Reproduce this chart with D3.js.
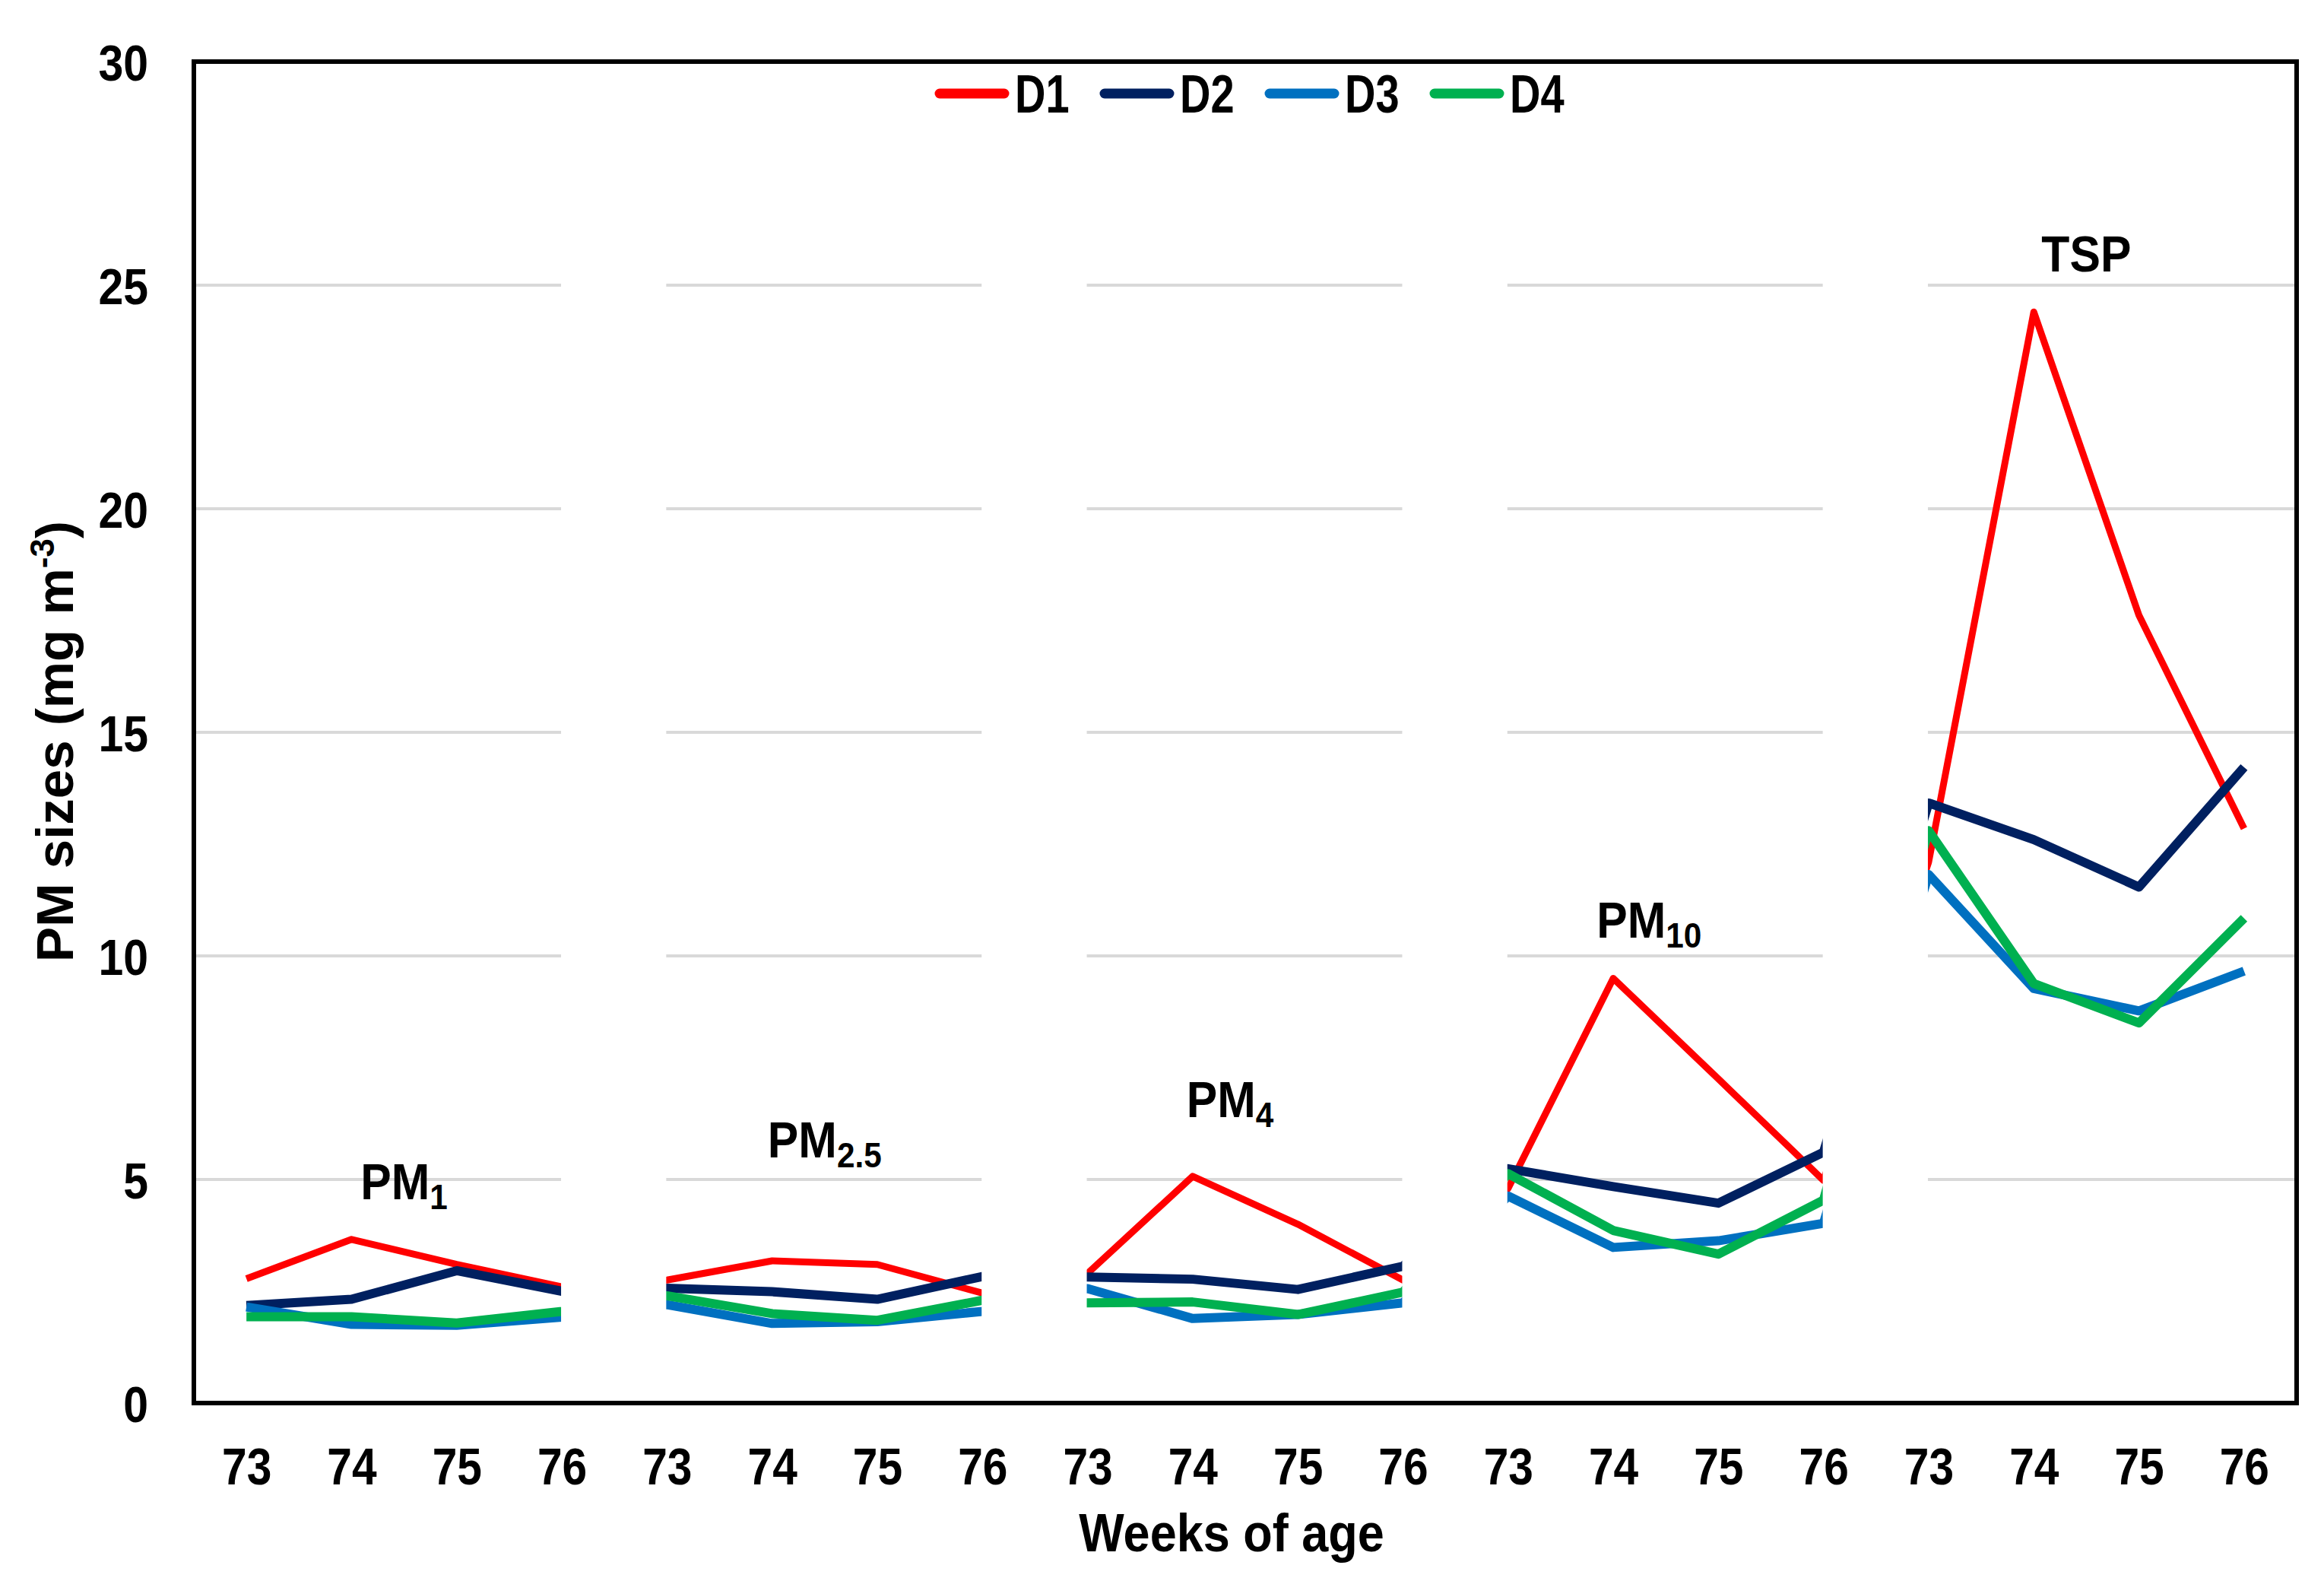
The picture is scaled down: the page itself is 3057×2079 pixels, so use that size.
<!DOCTYPE html>
<html>
<head>
<meta charset="utf-8">
<script src="https://cdn.jsdelivr.net/npm/d3@7/dist/d3.min.js"></script>
<style>
  html, body { margin: 0; padding: 0; background: #ffffff; }
  svg { display: block; }
  text { font-family: "Liberation Sans", Arial, sans-serif; font-weight: bold; fill: #000; }
</style>
</head>
<body>
<svg id="chart" width="3057" height="2079"></svg>
<script>
// ---------------- data ----------------
const groups = ["PM1", "PM2.5", "PM4", "PM10", "TSP"];
const groupMain = ["PM", "PM", "PM", "PM", "TSP"];
const groupSub = ["1", "2.5", "4", "10", ""];
const weeks = ["73", "74", "75", "76"];
const seriesNames = ["D1", "D2", "D3", "D4"];
const seriesColors = ["#FF0000", "#002060", "#0070C0", "#00B050"];

const D1 = [2.78, 3.66, 3.10, 2.60,  2.75, 3.18, 3.10, 2.46,  2.90, 5.07, 4.00, 2.75,  4.80, 9.50, 7.25, 4.98,  12.10, 24.40, 17.62, 12.85];
const D2 = [2.18, 2.32, 2.96, 2.50,  2.57, 2.49, 2.32, 2.83,  2.82, 2.77, 2.54, 3.06,  5.24, 4.84, 4.47, 5.61,  13.42, 12.60, 11.54, 14.22];
const D3 = [2.15, 1.76, 1.74, 1.92,  2.20, 1.78, 1.82, 2.05,  2.56, 1.89, 1.98, 2.24,  4.63, 3.48, 3.63, 4.02,  11.82, 9.27, 8.77, 9.66];
const D4 = [1.93, 1.93, 1.79, 2.05,  2.40, 2.00, 1.85, 2.30,  2.24, 2.26, 1.98, 2.48,  5.13, 3.86, 3.33, 4.54,  12.80, 9.38, 8.50, 10.84];
const seriesValues = [D1, D2, D3, D4];

const yTicks = [0, 5, 10, 15, 20, 25, 30];
const groupLabelY = [4.55, 5.5, 6.4, 10.4, 25.3]; // label baselines, in data units

// ---------------- layout ----------------
const W = 3057, H = 2079;
const plot = { left: 255, right: 3021, top: 81, bottom: 1845 };
const labelDx = [0, 0, -20, -22, 0];
const SQ_TICK_X = 0.85, SQ_TICK_Y = 0.88, SQ_LEG = 0.8, SQ_LAB = 0.92, SQ_TITLE = 0.9;

const svg = d3.select("#chart");
svg.append("rect").attr("width", W).attr("height", H).attr("fill", "#fff");

// categories: one per (group, week)
const categories = [];
groups.forEach((g, gi) => weeks.forEach((w, wi) => categories.push({ key: gi * weeks.length + wi, group: g, week: w })));

const x = d3.scalePoint()
  .domain(categories.map(d => d.key))
  .range([plot.left, plot.right])
  .padding(0.5);

const y = d3.scaleLinear().domain([0, 30]).range([plot.bottom, plot.top]);

// gridlines
svg.append("g")
  .selectAll("line")
  .data(yTicks.filter(v => v > 0 && v < 30))
  .join("line")
  .attr("x1", plot.left).attr("x2", plot.right)
  .attr("y1", d => y(d)).attr("y2", d => y(d))
  .attr("stroke", "#D9D9D9").attr("stroke-width", 4);

// series lines (continuous, then gaps masked as in original)
const line = d3.line()
  .x((d, i) => x(i))
  .y(d => y(d));

svg.append("g")
  .selectAll("path")
  .data(seriesValues)
  .join("path")
  .attr("d", d => line(d))
  .attr("fill", "none")
  .attr("stroke", (d, i) => seriesColors[i])
  .attr("stroke-width", (d, i) => i === 0 ? 9 : 12)
  .attr("stroke-linejoin", "round")
  .attr("stroke-linecap", "butt");

// white masks between groups
const gaps = d3.range(groups.length - 1);
svg.append("g")
  .selectAll("rect")
  .data(gaps)
  .join("rect")
  .attr("x", g => x(g * 4 + 3) - 1)
  .attr("width", g => (x(g * 4 + 4) - 1) - (x(g * 4 + 3) - 1))
  .attr("y", plot.top + 4)
  .attr("height", plot.bottom - plot.top - 8)
  .attr("fill", "#fff");

// frame
svg.append("rect")
  .attr("x", plot.left).attr("y", plot.top)
  .attr("width", plot.right - plot.left).attr("height", plot.bottom - plot.top)
  .attr("fill", "none").attr("stroke", "#000").attr("stroke-width", 6);

// y axis
const yAxis = d3.axisLeft(y).tickValues(yTicks).tickSize(0).tickFormat(d3.format("d"));
const gy = svg.append("g").attr("transform", `translate(${plot.left},0)`).call(yAxis);
gy.select(".domain").remove();
gy.selectAll("text")
  .attr("font-size", 67)
  .attr("font-family", '"Liberation Sans", Arial, sans-serif')
  .attr("font-weight", "bold")
  .attr("fill", "#000")
  .attr("x", -60 / SQ_TICK_Y)
  .attr("dy", "0.36em")
  .attr("transform", `scale(${SQ_TICK_Y},1)`);

// x axis
const xAxis = d3.axisBottom(x).tickSize(0).tickFormat(k => categories[k].week);
const gx = svg.append("g").attr("transform", `translate(0,${plot.bottom})`).call(xAxis);
gx.select(".domain").remove();
gx.selectAll("text")
  .attr("font-size", 69)
  .attr("font-family", '"Liberation Sans", Arial, sans-serif')
  .attr("font-weight", "bold")
  .attr("fill", "#000")
  .attr("x", 0)
  .attr("y", 107)
  .attr("dy", 0)
  .attr("transform", `scale(${SQ_TICK_X},1)`);

// group labels
groups.forEach((g, gi) => {
  const cx = (x(gi * 4 + 1) + x(gi * 4 + 2)) / 2 + labelDx[gi];
  const t = svg.append("g")
    .attr("transform", `translate(${cx},${y(groupLabelY[gi])}) scale(${SQ_LAB},1)`)
    .append("text")
    .attr("text-anchor", "middle")
    .attr("font-size", 66);
  t.append("tspan").text(groupMain[gi]);
  if (groupSub[gi]) {
    t.append("tspan").attr("font-size", 46).attr("dy", 13).text(groupSub[gi]);
  }
});

// legend
const legStart = 1230, legStep = 217, legY = 123, legLine = 97;
const leg = svg.append("g")
  .selectAll("g")
  .data(seriesNames)
  .join("g")
  .attr("transform", (d, i) => `translate(${legStart + i * legStep},${legY})`);
leg.append("line")
  .attr("x1", 6).attr("x2", legLine - 6)
  .attr("y1", 0).attr("y2", 0)
  .attr("stroke", (d, i) => seriesColors[i])
  .attr("stroke-width", 13)
  .attr("stroke-linecap", "round");
leg.append("g")
  .attr("transform", `translate(${legLine + 8},25) scale(${SQ_LEG},1)`)
  .append("text")
  .attr("font-size", 70)
  .text(d => d);

// y-axis title
const yt = svg.append("text")
  .attr("transform", "translate(96,975) rotate(-90)")
  .attr("text-anchor", "middle")
  .attr("font-size", 69);
yt.append("tspan").text("PM sizes (mg m");
yt.append("tspan").attr("font-size", 44).attr("dy", -25).text("-3");
yt.append("tspan").attr("dy", 25).text(")");

// x-axis title
svg.append("g")
  .attr("transform", `translate(1620,2040) scale(${SQ_TITLE},1)`)
  .append("text")
  .attr("text-anchor", "middle")
  .attr("font-size", 70)
  .text("Weeks of age");
</script>
</body>
</html>
